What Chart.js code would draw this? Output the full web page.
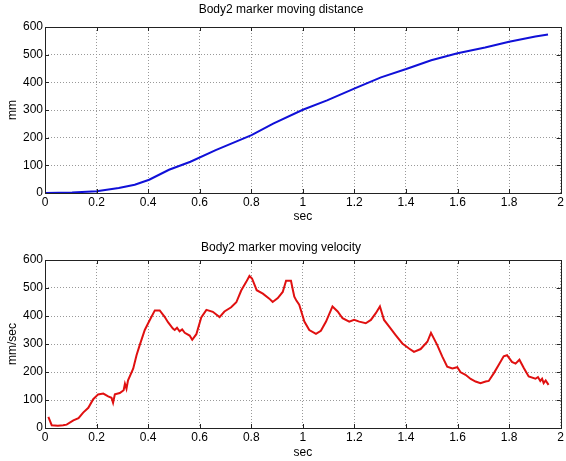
<!DOCTYPE html>
<html>
<head>
<meta charset="utf-8">
<title>Body2 marker</title>
<script src="https://cdn.jsdelivr.net/npm/chart.js@4.4.1/dist/chart.umd.min.js"></script>
<style>
  html, body { margin: 0; padding: 0; background: #fff; }
  .plot { position: absolute; left: 0; width: 566px; }
  #distBox { top: 0; height: 230px; }
  #velBox { top: 230px; height: 231px; }
</style>
</head>
<body>
<div class="plot" id="distBox"><canvas id="distChart"></canvas></div>
<div class="plot" id="velBox"><canvas id="velChart"></canvas></div>
<script>
// distance (mm) over time (sec)
const distTime = [0, 0.105, 0.2, 0.286, 0.348, 0.404, 0.481, 0.564, 0.662, 0.801, 0.885,
  1.0, 1.094, 1.206, 1.303, 1.401, 1.498, 1.6, 1.707, 1.8, 1.902, 1.951];
const distance = [0, 2, 6, 18, 30, 48, 84, 113, 155, 209, 251,
  301, 335, 380, 418, 448, 480, 505, 526, 547, 566, 573];

// velocity (mm/sec) over time (sec)
const velTime = [0.013, 0.026, 0.05, 0.07, 0.084, 0.11, 0.13, 0.148, 0.168, 0.187, 0.206,
  0.226, 0.245, 0.258, 0.264, 0.271, 0.29, 0.305, 0.31, 0.316, 0.322, 0.342, 0.355, 0.367,
  0.387, 0.406, 0.426, 0.445, 0.464, 0.477, 0.496, 0.503, 0.512, 0.522, 0.532, 0.542, 0.561,
  0.571, 0.587, 0.606, 0.626, 0.651, 0.677, 0.696, 0.722, 0.742, 0.761, 0.78, 0.793, 0.803,
  0.821, 0.845, 0.87, 0.883, 0.903, 0.922, 0.935, 0.954, 0.962, 0.967, 0.975, 0.986, 1.006,
  1.025, 1.051, 1.07, 1.09, 1.115, 1.135, 1.154, 1.18, 1.199, 1.219, 1.244, 1.264, 1.283,
  1.299, 1.315, 1.335, 1.36, 1.386, 1.412, 1.431, 1.457, 1.483, 1.497, 1.521, 1.541, 1.56,
  1.58, 1.599, 1.612, 1.631, 1.651, 1.67, 1.689, 1.709, 1.721, 1.741, 1.76, 1.779, 1.792,
  1.811, 1.825, 1.84, 1.857, 1.876, 1.902, 1.912, 1.921, 1.928, 1.934, 1.942, 1.953];
const velocity = [40, 10, 8, 10, 12, 27, 35, 55, 72, 103, 120,
  123, 113, 108, 90, 120, 125, 135, 158, 140, 170, 212, 260, 295,
  350, 385, 420, 420, 397, 378, 355, 350, 358, 345, 352, 340, 330,
  315, 335, 395, 422, 415, 396, 416, 431, 449, 491, 521, 543, 534,
  492, 480, 462, 450, 464, 486, 526, 526, 490, 469, 455, 440, 380,
  350, 336, 347, 380, 434, 416, 392, 380, 386, 380, 374, 386, 410,
  434, 386, 362, 332, 302, 284, 272, 282, 308, 340, 297, 255, 219,
  213, 217, 199, 190, 175, 166, 160, 166, 168, 196, 226, 256, 260,
  236, 230, 244, 214, 184, 176, 182, 168, 176, 160, 170, 154];

const xTicks = [0, 0.2, 0.4, 0.6, 0.8, 1, 1.2, 1.4, 1.6, 1.8, 2];

const FONT = "'Liberation Sans', Arial, sans-serif";

// box around the axes with small inward tick marks
const axesBox = {
  id: 'axesBox',
  afterDraw(chart) {
    const { ctx, chartArea: { left, top, right, bottom }, scales } = chart;
    ctx.save();
    ctx.strokeStyle = '#222';
    ctx.lineWidth = 1;
    ctx.beginPath();
    scales.x.ticks.forEach((t) => {
      const px = Math.round(scales.x.getPixelForValue(t.value)) + 0.5;
      ctx.moveTo(px, bottom); ctx.lineTo(px, bottom - 4);
      ctx.moveTo(px, top); ctx.lineTo(px, top + 4);
    });
    scales.y.ticks.forEach((t) => {
      const py = Math.round(scales.y.getPixelForValue(t.value)) + 0.5;
      ctx.moveTo(left, py); ctx.lineTo(left + 4, py);
      ctx.moveTo(right, py); ctx.lineTo(right - 4, py);
    });
    ctx.stroke();
    ctx.strokeRect(Math.round(left) + 0.5, Math.round(top) + 0.5,
      Math.round(right - left), Math.round(bottom - top));
    ctx.restore();
  },
};

const makeChart = (canvas, cfg) => new Chart(canvas, {
  type: 'line',
  data: {
    datasets: [{
      data: cfg.xs.map((x, i) => ({ x, y: cfg.ys[i] })),
      borderColor: cfg.color,
      borderWidth: cfg.width,
      pointRadius: 0,
      tension: 0,
      fill: false,
    }],
  },
  options: {
    animation: false,
    responsive: true,
    maintainAspectRatio: false,
    layout: { padding: { left: 0, right: 4, top: 0, bottom: 0 } },
    plugins: {
      legend: { display: false },
      tooltip: { enabled: false },
      title: {
        display: true,
        text: cfg.title,
        color: '#000',
        font: { family: FONT, size: 12, weight: 'normal' },
        padding: cfg.titlePad,
      },
    },
    scales: {
      x: {
        type: 'linear',
        min: 0,
        max: 2,
        afterBuildTicks: (axis) => { axis.ticks = xTicks.map((v) => ({ value: v })); },
        afterFit: (axis) => { axis.height = cfg.xHeight; },
        grid: { color: '#999', lineWidth: 1, drawTicks: false },
        border: { display: false, dash: [1, 2] },
        ticks: {
          color: '#000',
          padding: 2,
          maxRotation: 0,
          font: { family: FONT, size: 12 },
          callback: (v) => String(v),
        },
        title: {
          display: true,
          text: 'sec',
          color: '#000',
          font: { family: FONT, size: 12 },
          padding: { top: 0, bottom: cfg.secPad },
        },
      },
      y: {
        min: 0,
        max: 600,
        afterFit: (axis) => { axis.width = 45; },
        grid: { color: '#999', lineWidth: 1, drawTicks: false },
        border: { display: false, dash: [1, 2] },
        ticks: {
          stepSize: 100,
          color: '#000',
          padding: 2,
          font: { family: FONT, size: 12 },
        },
        title: {
          display: true,
          text: cfg.yTitle,
          color: '#000',
          font: { family: FONT, size: 12 },
          padding: { top: 5, bottom: 0 },
        },
      },
    },
  },
  plugins: [axesBox],
});

makeChart(document.getElementById('distChart'), {
  xs: distTime,
  ys: distance,
  color: '#1010d8',
  width: 2,
  title: 'Body2 marker moving distance',
  titlePad: { top: 2.8, bottom: 9.8 },
  xHeight: 37,
  secPad: 5.8,
  yTitle: 'mm',
});

makeChart(document.getElementById('velChart'), {
  xs: velTime,
  ys: velocity,
  color: '#e01010',
  width: 2,
  title: 'Body2 marker moving velocity',
  titlePad: { top: 10.8, bottom: 4.8 },
  xHeight: 33,
  secPad: 0.8,
  yTitle: 'mm/sec',
});
</script>
</body>
</html>
